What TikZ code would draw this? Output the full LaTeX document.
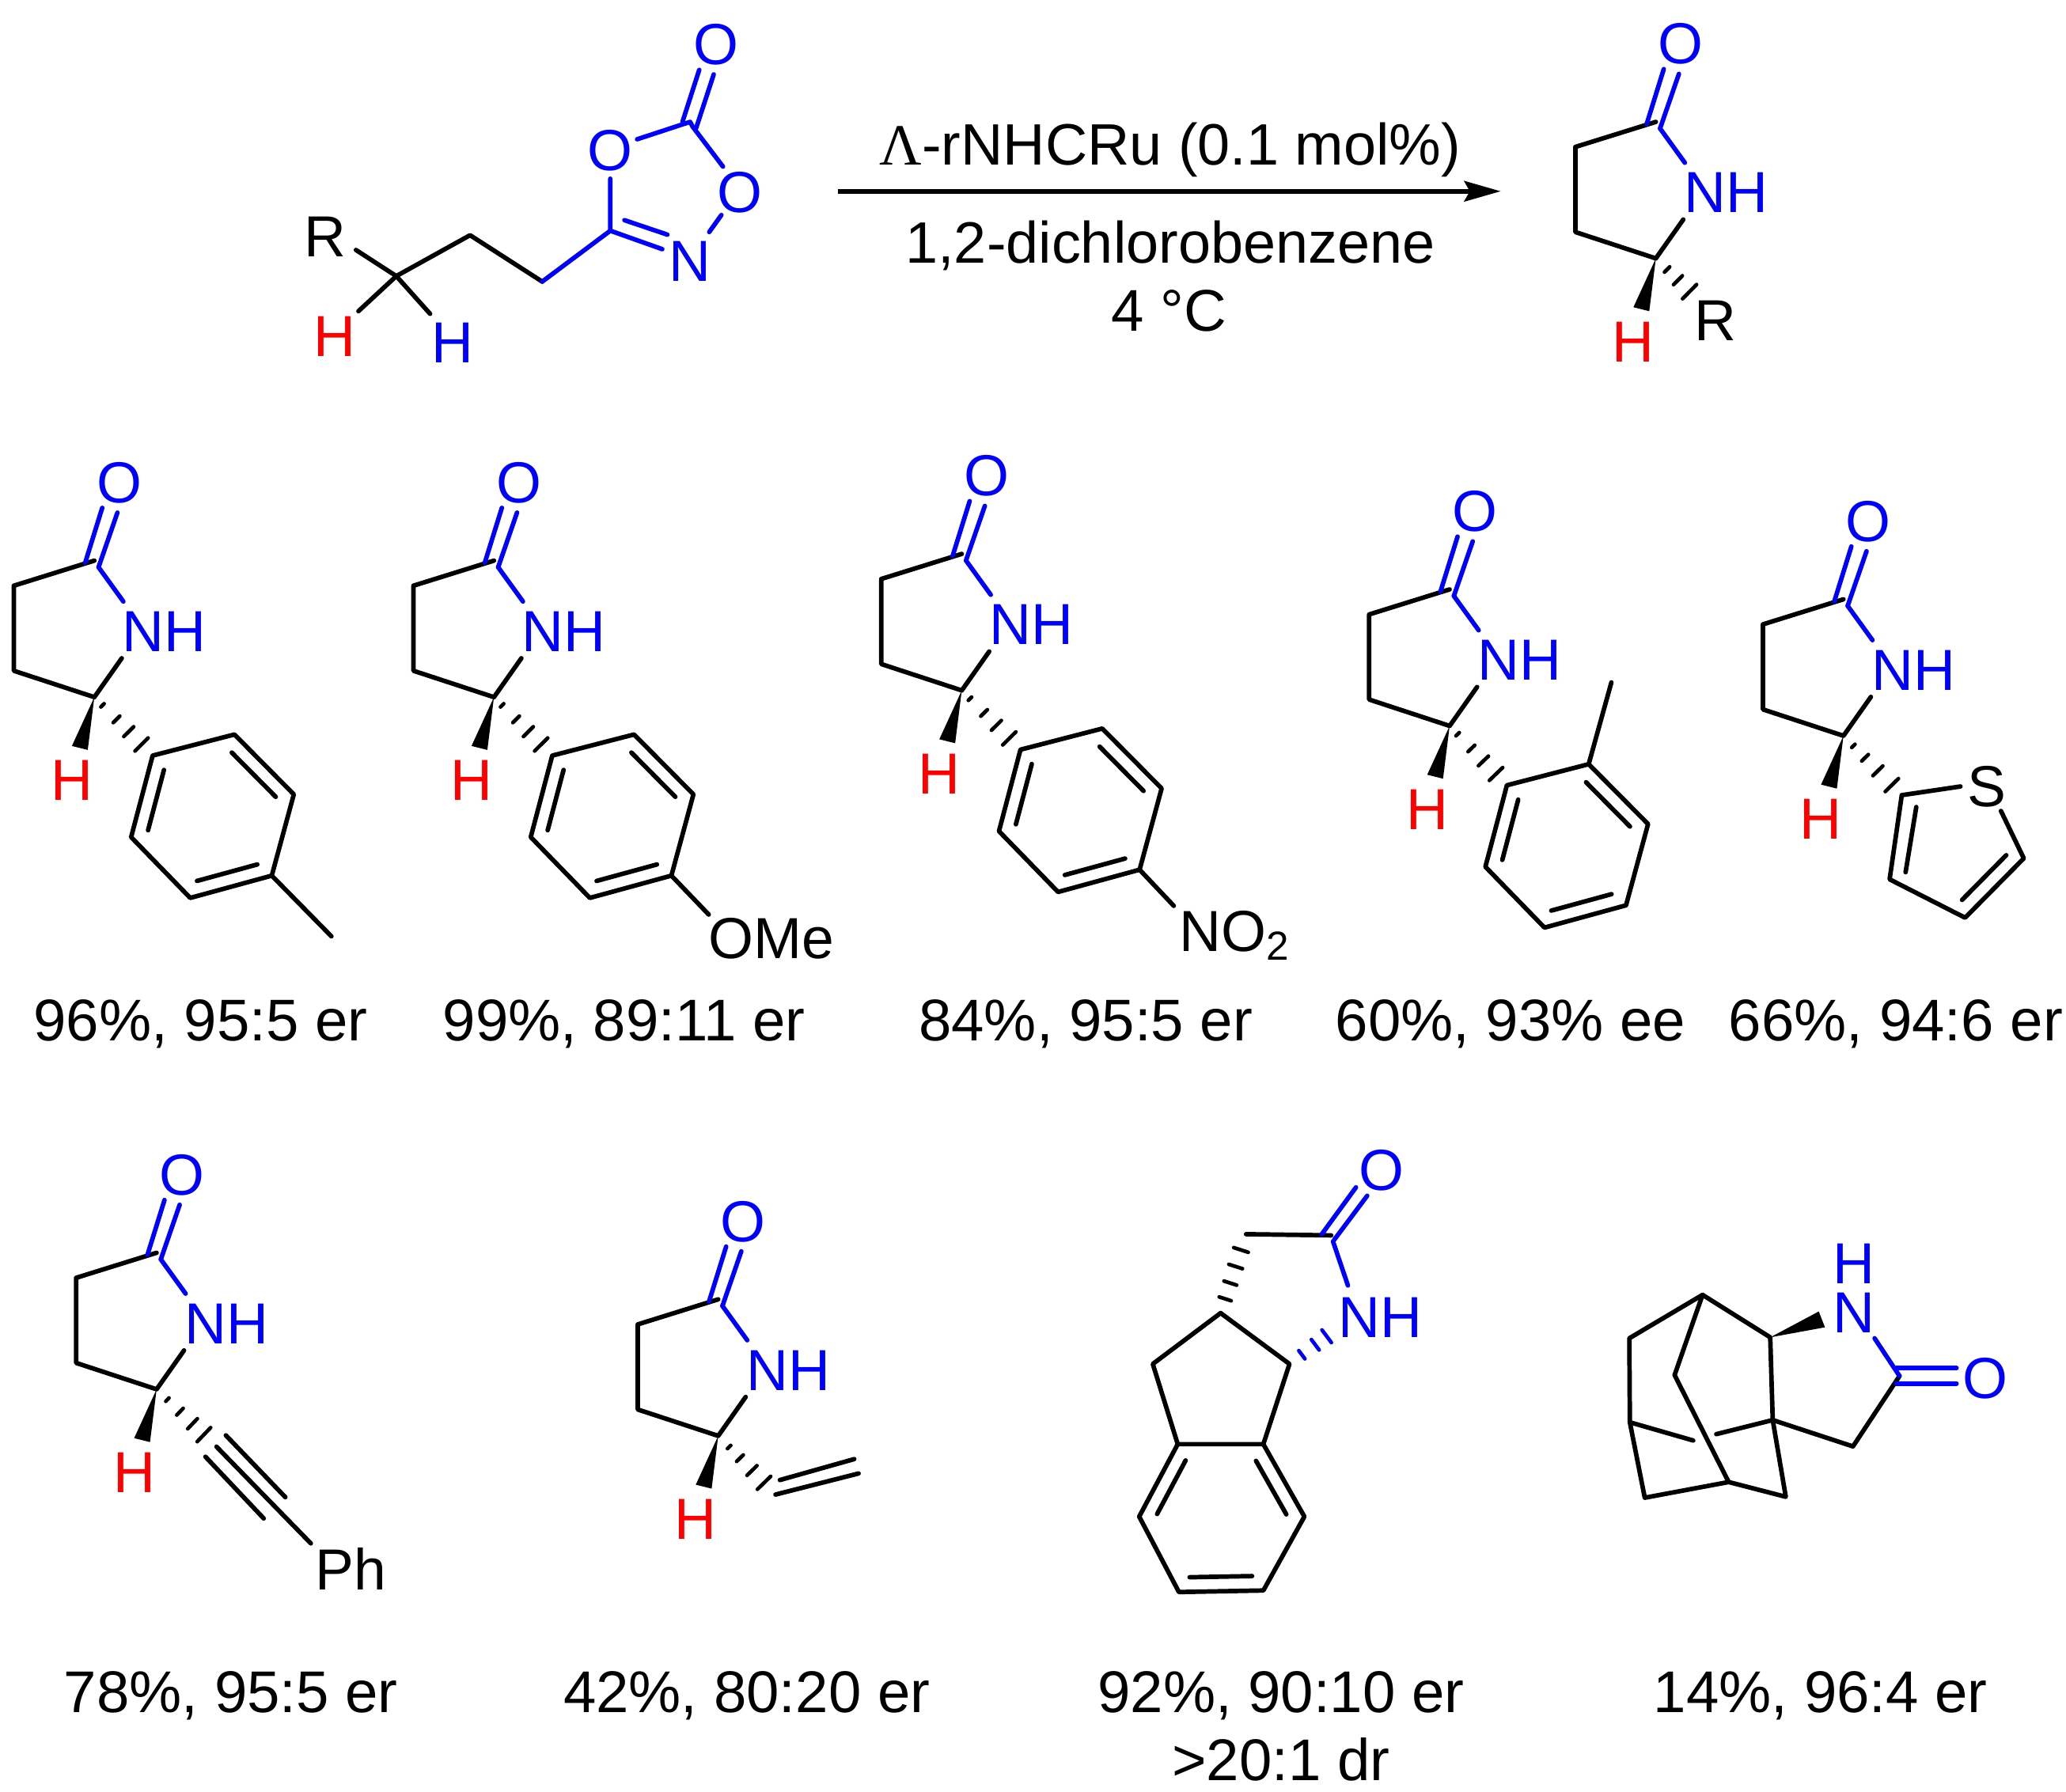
\documentclass[tikz,border=0pt]{standalone}
\usepackage{fontspec}
\setmainfont{Liberation Sans}
\newfontfamily\lamfont{Liberation Serif}
\usetikzlibrary{calc}
\usetikzlibrary{arrows.meta}
\tikzset{atom/.style = {
    inner sep = 0pt, font = \fontsize{25}{30}\selectfont
}}
\tikzset{yield/.style = {
    inner sep = 0pt, font = \fontsize{25.4}{30}\selectfont
}}
\tikzset{bond/.style = {
    line width = 1.95pt, line cap = round, line join = round
}}
\newcommand{\innerbond}[3][black]{
  \draw[bond,#1] ($(#2)!.13!(#3)!6.3pt!90:(#3)$) -- ($(#3)!.13!(#2)!6.3pt!-90:(#2)$);
}
\newcommand{\hashbond}[4][black]{
  \foreach \t/\w in {#4} {
    \draw[bond,line width=1.6pt,#1] ($(#2)!\t!(#3)!\w pt!90:(#3)$) -- ($(#2)!\t!(#3)!\w pt!-90:(#3)$);
  }
}
\newcommand{\lactam}[3]{
  \begin{scope}[shift={(#2,#3)}]
    \coordinate (#1c) at (0,0);
    \coordinate (#1b) at (-61,19);
    \coordinate (#1a) at (-61,83.5);
    \coordinate (#1d) at (0,103.5);
    \coordinate (#1nu) at (22,31);
    \coordinate (#1nl) at (20.8,74);
    \coordinate (#1w1) at (-17,140.5);
    \coordinate (#1w2) at (-5,143.5);
    \coordinate (#1o1) at (-6.9,1.5);
    \coordinate (#1o2) at (6,-40);
    \coordinate (#1o3) at (3.2,5);
    \coordinate (#1o4) at (17.5,-36.4);
    \node[atom,blue] (#1o) at (19,-59) {O};
    \node[atom,blue] (#1nh) at (53,53.7) {NH};
    \node[atom,red] (#1h) at (-17,166.8) {H};
    \draw[bond] (#1c) -- (#1b) -- (#1a) -- (#1d) -- (#1nl);
    \draw[bond,blue] (#1o1) -- (#1o2);
    \draw[bond,blue] (#1o3) -- (#1o4);
    \draw[bond,blue] (#1o3) -- (#1nu);
    \fill (#1d) -- (#1w1) -- (#1w2) -- cycle;
  \end{scope}
}
\newcommand{\aryl}[3]{
  \begin{scope}[shift={(#2,#3)}]
    \coordinate (#1a) at (0,0);
    \coordinate (#1b) at (62,-16);
    \coordinate (#1c) at (107,29.4);
    \coordinate (#1d) at (90.3,91);
    \coordinate (#1e) at (28.5,107.9);
    \coordinate (#1f) at (-16.3,61.8);
    \draw[bond] (#1a) -- (#1b) -- (#1c) -- (#1d) -- (#1e) -- (#1f) -- cycle;
    \innerbond{#1a}{#1f}
    \innerbond{#1e}{#1d}
    \innerbond{#1c}{#1b}
  \end{scope}
}

\begin{document}
\begin{tikzpicture}[x=0.02cm,y=-0.02cm]
  \useasboundingbox (0,0) rectangle (1566,1358);

  \coordinate (s1) at (300.4,209.3);
  \coordinate (s2) at (356.3,178.3);
  \coordinate (s3) at (411,213.5);
  \coordinate (s4) at (462.6,174.9);
  \coordinate (s5) at (523.1,92.4);
  \coordinate (sr) at (269.8,189.5);
  \coordinate (sh1) at (271.7,235.9);
  \coordinate (sh2) at (326,237.9);
  \coordinate (so1a) at (462.6,135.5);
  \coordinate (so1b) at (482.9,105.6);
  \coordinate (so2a) at (525,96);
  \coordinate (so2b) at (548,126.3);
  \coordinate (so2c) at (546.8,163);
  \coordinate (sna) at (537.6,175.9);
  \coordinate (sn1) at (502,188.9);
  \coordinate (sn2) at (473.3,166.9);
  \coordinate (sn3) at (505.9,177.9);
  \coordinate (sc1) at (517.3,92.4);
  \coordinate (sc2) at (530,53);
  \coordinate (sc3) at (527.7,97);
  \coordinate (sc4) at (541,56.4);
  \node[atom] (sR) at (246.5,179.5) {R};
  \node[atom,red] (sH1) at (253.4,255) {H};
  \node[atom,blue] (sH2) at (343.3,260) {H};
  \node[atom,blue] (sO1) at (462.6,114) {O};
  \node[atom,blue] (sO2) at (560.6,146) {O};
  \node[atom,blue] (sO3) at (543,34) {O};
  \node[atom,blue] (sN) at (523.1,198) {N};
  \draw[bond] (sr) -- (s1) -- (s2) -- (s3);
  \draw[bond] (sh1) -- (s1) -- (sh2);
  \draw[bond,blue] (s3) -- (s4) -- (so1a);
  \draw[bond,blue] (so1b) -- (s5) -- (so2a) -- (so2b);
  \draw[bond,blue] (so2c) -- (sna);
  \draw[bond,blue] (s4) -- (sn1);
  \draw[bond,blue] (sn2) -- (sn3);
  \draw[bond,blue] (sc1) -- (sc2);
  \draw[bond,blue] (sc3) -- (sc4);

  \coordinate (pfeil1) at (635,145);
  \coordinate (pfeil2) at (1137.5,145);
  \draw[line width=2pt,-{Stealth[length=15.7pt,width=8.8pt,inset=2.4pt]}] (pfeil1) -- (pfeil2);
  \node[yield,font=\fontsize{25.2}{30}\selectfont] (cat) at (887,113.5) {{\lamfont Λ}-rNHCRu (0.1 mol\%)};
  \node[yield,font=\fontsize{25.2}{30}\selectfont] (solv) at (887,186) {1,2-dichlorobenzene};
  \node[yield] (temp) at (886,235.5) {4 °C};

  \lactam{p}{1255.1}{92.4}
  \node[atom] (pR) at (1300.5,243) {R};
  \coordinate (pq) at (1283.5,223.9);
  \hashbond{pd}{pq}{.3/1.6,.59/2.7,.9/4.3}

  \lactam{a}{71.5}{425}
  \aryl{ar}{115.7}{572.8}
  \coordinate (ame) at (251.2,709.8);
  \draw[bond] (ard) -- (ame);
  \hashbond{ad}{ara}{.14/1,.38/2,.59/3,.81/4}
  \node[yield] (ay) at (152,776.5) {96\%, 95:5 er};

  \lactam{b}{374.4}{425}
  \aryl{br}{418.6}{572.8}
  \coordinate (bme) at (537.2,693.3);
  \draw[bond] (brd) -- (bme);
  \node[atom] (bome) at (584.5,711.5) {OMe};
  \hashbond{bd}{bra}{.14/1,.38/2,.59/3,.81/4}
  \node[yield] (by) at (473,776.5) {99\%, 89:11 er};

  \lactam{c}{729}{419.9}
  \aryl{cr}{773.5}{568.3}
  \coordinate (cni) at (889.7,686.7);
  \draw[bond] (crd) -- (cni);
  \node[atom,anchor=base west] (cno) at (893.5,721) {NO\textsubscript{2}};
  \hashbond{cd}{cra}{.14/1,.38/2,.59/3,.81/4}
  \node[yield] (cy) at (823,776.5) {84\%, 95:5 er};

  \lactam{d}{1098.8}{446.8}
  \aryl{dr}{1142.2}{595.3}
  \coordinate (dme) at (1221.4,517.3);
  \draw[bond] (drb) -- (dme);
  \hashbond{dd}{dra}{.14/1,.38/2,.59/3,.81/4}
  \node[yield] (dy) at (1145,776.5) {60\%, 93\% ee};

  \lactam{e}{1397.3}{454.3}
  \coordinate (et1) at (1441.5,602.8);
  \coordinate (et2) at (1486,596.2);
  \coordinate (et3) at (1516.7,614.8);
  \coordinate (et4) at (1534,650.7);
  \coordinate (et5) at (1489.5,695.7);
  \coordinate (et6) at (1432.3,666.6);
  \coordinate (et7) at (1452.5,611.8);
  \coordinate (et8) at (1444.4,661.2);
  \coordinate (et9) at (1520.7,648.3);
  \coordinate (et10) at (1487.2,682.2);
  \node[atom] (es) at (1506,596.5) {S};
  \draw[bond] (et2) -- (et1) -- (et6) -- (et5) -- (et4) -- (et3);
  \draw[bond] (et7) -- (et8);
  \draw[bond] (et9) -- (et10);
  \hashbond{ed}{et1}{.17/1,.37/2,.59/3,.83/4}
  \node[yield] (ey) at (1437,776.5) {66\%, 94:6 er};

  \lactam{f}{118.7}{949.7}
  \coordinate (ft1) at (164.1,1096.7);
  \coordinate (ft2) at (235.6,1170);
  \coordinate (ft3) at (171.2,1088.1);
  \coordinate (ft4) at (216.3,1135);
  \coordinate (ft5) at (155.7,1104.3);
  \coordinate (ft6) at (199.9,1151.1);
  \node[atom] (fph) at (266,1189.5) {Ph};
  \draw[bond] (ft1) -- (ft2);
  \draw[bond] (ft3) -- (ft4);
  \draw[bond] (ft5) -- (ft6);
  \hashbond{fd}{ft1}{.18/1,.39/2,.6/3,.79/4.2}
  \node[yield] (fy) at (175,1285.5) {78\%, 95:5 er};

  \lactam{g}{544.4}{985}
  \coordinate (gv1) at (587.8,1133);
  \coordinate (gv2) at (650.8,1117);
  \coordinate (gv3) at (591.1,1122);
  \coordinate (gv4) at (647.5,1106.1);
  \draw[bond] (gv1) -- (gv2);
  \draw[bond] (gv3) -- (gv4);
  \hashbond{gd}{gv1}{.19/1,.38/2,.59/3,.8/4}
  \node[yield] (gy) at (566,1285.5) {42\%, 80:20 er};

  \coordinate (h1) at (944.5,935.6);
  \coordinate (h2) at (1009,936.5);
  \coordinate (h3) at (925.2,995.4);
  \coordinate (h4) at (977.4,1034);
  \coordinate (h5) at (873.8,1034);
  \coordinate (h6) at (892.7,1094.8);
  \coordinate (h7) at (957.6,1094.8);
  \coordinate (h8) at (863.5,1149.7);
  \coordinate (h9) at (988.7,1149.7);
  \coordinate (h10) at (893.6,1206.9);
  \coordinate (h11) at (957.6,1205.7);
  \coordinate (hn1) at (1010.4,941.1);
  \coordinate (hn2) at (1021.7,974.5);
  \coordinate (hn3) at (1015,1006);
  \coordinate (ho1) at (1001.9,935.6);
  \coordinate (ho2) at (1027.8,900.1);
  \coordinate (ho3) at (1011.3,939.9);
  \coordinate (ho4) at (1036.3,906.5);
  \node[atom,blue] (ho) at (1047,887) {O};
  \node[atom,blue] (hnh) at (1046,999) {NH};
  \draw[bond] (h1) -- (h2);
  \draw[bond] (h3) -- (h4) -- (h7) -- (h6) -- (h5) -- cycle;
  \draw[bond] (h6) -- (h8) -- (h10) -- (h11) -- (h9) -- (h7);
  \innerbond{h6}{h8}
  \innerbond{h9}{h7}
  \innerbond{h10}{h11}
  \draw[bond,blue] (ho1) -- (ho2);
  \draw[bond,blue] (ho3) -- (ho4);
  \draw[bond,blue] (hn1) -- (hn2);
  \hashbond{h3}{h1}{.18/2.7,.38/2.9,.59/3.1,.8/3.3}
  \hashbond[blue]{h4}{hn3}{.25/2.2,.52/2.8,.75/3.4}
  \node[yield] (hy) at (971,1285.5) {92\%, 90:10 er};
  \node[yield] (hdr) at (971,1334) {>20:1 dr};

  \coordinate (i1) at (1290.5,981.6);
  \coordinate (i2) at (1341.8,1013.8);
  \coordinate (i3) at (1235,1014.5);
  \coordinate (i4) at (1235.4,1078.2);
  \coordinate (i5) at (1269.3,1042.4);
  \coordinate (i6) at (1310.3,1123.5);
  \coordinate (i7) at (1343.7,1076.5);
  \coordinate (i8) at (1246.7,1135.4);
  \coordinate (i9) at (1353.6,1134.7);
  \coordinate (i10) at (1404.5,1096.5);
  \coordinate (i11) at (1439.8,1043.1);
  \coordinate (i12) at (1283.4,1092);
  \coordinate (i13) at (1300.9,1087.2);
  \coordinate (iw1) at (1378.6,994.2);
  \coordinate (iw2) at (1383.3,1006.2);
  \coordinate (in1) at (1420.9,1014.5);
  \coordinate (io1) at (1437.4,1037.2);
  \coordinate (io2) at (1483,1037.2);
  \coordinate (io3) at (1437.4,1048.8);
  \coordinate (io4) at (1483,1048.8);
  \node[atom,blue] (ih) at (1405,958) {H};
  \node[atom,blue] (in) at (1405,995) {N};
  \node[atom,blue] (io) at (1505,1045) {O};
  \draw[bond] (i4) -- (i3) -- (i1) -- (i2) -- (i7) -- (i10) -- (i11);
  \draw[bond] (i1) -- (i5) -- (i6);
  \draw[bond] (i4) -- (i8) -- (i6) -- (i9) -- (i7);
  \draw[bond] (i4) -- (i12);
  \draw[bond] (i13) -- (i7);
  \fill (i2) -- (iw1) -- (iw2) -- cycle;
  \draw[bond,blue] (in1) -- (i11);
  \draw[bond,blue] (io1) -- (io2);
  \draw[bond,blue] (io3) -- (io4);
  \node[yield] (iy) at (1380,1285.5) {14\%, 96:4 er};
\end{tikzpicture}
\end{document}
